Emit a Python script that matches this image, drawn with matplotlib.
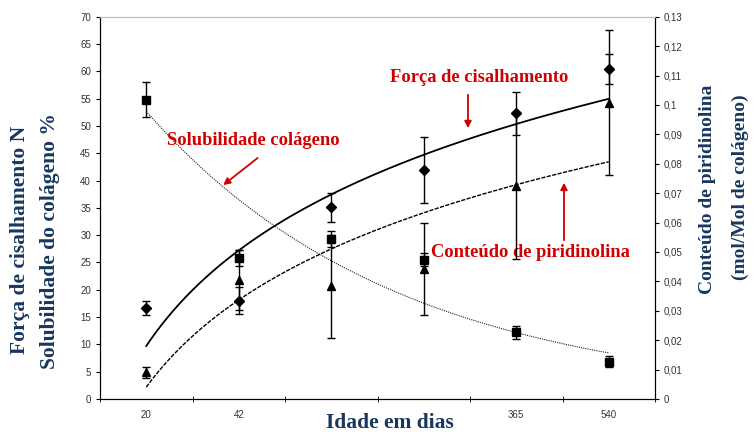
import numpy as np
import matplotlib.pyplot as plt

# Data
idade = ['20', '42', '', '', '365', '540']
forca = [16.7, 18.0, 35.1, 41.9, 52.3, 60.4]          # N
forca_err = [1.3, 2.5, 2.7, 6.0, 3.9, 2.8]
solub = [54.8, 25.8, 29.3, 25.5, 12.2, 6.8]           # %
solub_err = [3.2, 1.4, 1.4, 1.2, 1.2, 1.0]
pirid = [0.0091, 0.0405, 0.0384, 0.0442, 0.0726, 0.1008]   # mol/Mol
pirid_err = [0.0019, 0.0102, 0.0175, 0.0156, 0.0249, 0.0247]

blue = '#17375E'
red = '#D00000'
serif = 'Liberation Serif'
sans = 'Liberation Sans'

x = np.arange(1, len(idade) + 1)
xs = np.linspace(1, len(idade), 200)

fig = plt.figure(figsize=(7.55, 4.32), dpi=100)
ax = fig.add_axes([100/755, 1 - 399/432, 555/755, 382.3/432])
ax2 = ax.twinx()

# trendlines (as in a spreadsheet: log fits and an exponential fit)
b, a = np.polyfit(np.log(x), forca, 1)
ax.plot(xs, a + b*np.log(xs), color='black', lw=1.3)
b, a = np.polyfit(np.log(x), pirid, 1)
ax2.plot(xs, a + b*np.log(xs), color='black', lw=1.0, ls=(0, (3, 1)))
k, c = np.polyfit(x, np.log(solub), 1)
ax.plot(xs, np.exp(c + k*xs), color='#222222', lw=0.8, ls=(0, (1, 1)))

# points with error bars
ax.errorbar(x, forca, yerr=forca_err, fmt='D', color='black', ms=5,
            capsize=3, elinewidth=1, capthick=1)
ax.errorbar(x, solub, yerr=solub_err, fmt='s', color='black', ms=6,
            capsize=3, elinewidth=1, capthick=1)
ax2.errorbar(x, pirid, yerr=pirid_err, fmt='^', color='black', ms=6,
             capsize=3, elinewidth=1, capthick=1)

ax.set_xlim(0.5, len(idade) + 0.5)
ax.set_ylim(0, 70)
ax2.set_ylim(0, 0.13)
ax.set_yticks(np.arange(0, 71, 5))
ax2.set_yticks(np.arange(0, 0.131, 0.01))
ax2.set_yticklabels(['0'] + [('%g' % v).replace('.', ',') for v in np.arange(0.01, 0.131, 0.01)])
ax.set_xticks(x)
ax.set_xticklabels(idade)
ax.set_xticks(np.arange(0.5, len(idade) + 1), minor=True)
ax.tick_params(axis='x', which='major', length=0, labelsize=7, pad=8)
ax.tick_params(axis='x', which='minor', length=4, direction='inout')
ax.tick_params(axis='y', length=3, labelsize=7)
ax2.tick_params(axis='y', length=3, labelsize=7)
for t in ax.get_xticklabels() + ax.get_yticklabels() + ax2.get_yticklabels():
    t.set_fontfamily(sans)
    t.set_color('#333333')

for s in ['left', 'bottom', 'right']:
    ax2.spines[s].set_color('black')
ax2.spines['top'].set_color('#BBBBBB')
ax.spines['top'].set_color('#BBBBBB')

# axis titles
fig.text(20/755, 1 - 240/432, 'Força de cisalhamento N', rotation=90, ha='center', va='center',
         fontsize=15.5, fontweight='bold', family=serif, color=blue)
fig.text(50/755, 1 - 241/432, 'Solubilidade do colágeno %', rotation=90, ha='center', va='center',
         fontsize=15.5, fontweight='bold', family=serif, color=blue)
fig.text(708/755, 1 - 189/432, 'Conteúdo de piridinolina', rotation=90, ha='center', va='center',
         fontsize=14, fontweight='bold', family=serif, color=blue)
fig.text(740/755, 1 - 187/432, '(mol/Mol de colágeno)', rotation=90, ha='center', va='center',
         fontsize=14, fontweight='bold', family=serif, color=blue)
fig.text(390/755, 1 - 423/432, 'Idade em dias', ha='center', va='center',
         fontsize=15.5, fontweight='bold', family=serif, color=blue)

# annotations
def label(text, tx, ty, tail, head):
    ax.text(tx, ty, text, transform=ax.transAxes, color=red, fontsize=13.3,
            fontweight='bold', family=serif, va='center', ha='left')
    ax.annotate('', xy=head, xytext=tail, xycoords='axes fraction', textcoords='axes fraction',
                arrowprops=dict(arrowstyle='-|>', color=red, lw=1.3, mutation_scale=10))

label('Solubilidade colágeno', 0.121, 0.677, (0.288, 0.635), (0.218, 0.555))
label('Força de cisalhamento', 0.5225, 0.842, (0.663, 0.803), (0.663, 0.701))
label('Conteúdo de piridinolina', 0.596, 0.382, (0.836, 0.408), (0.836, 0.573))

fig.savefig('out.png', dpi=100)
